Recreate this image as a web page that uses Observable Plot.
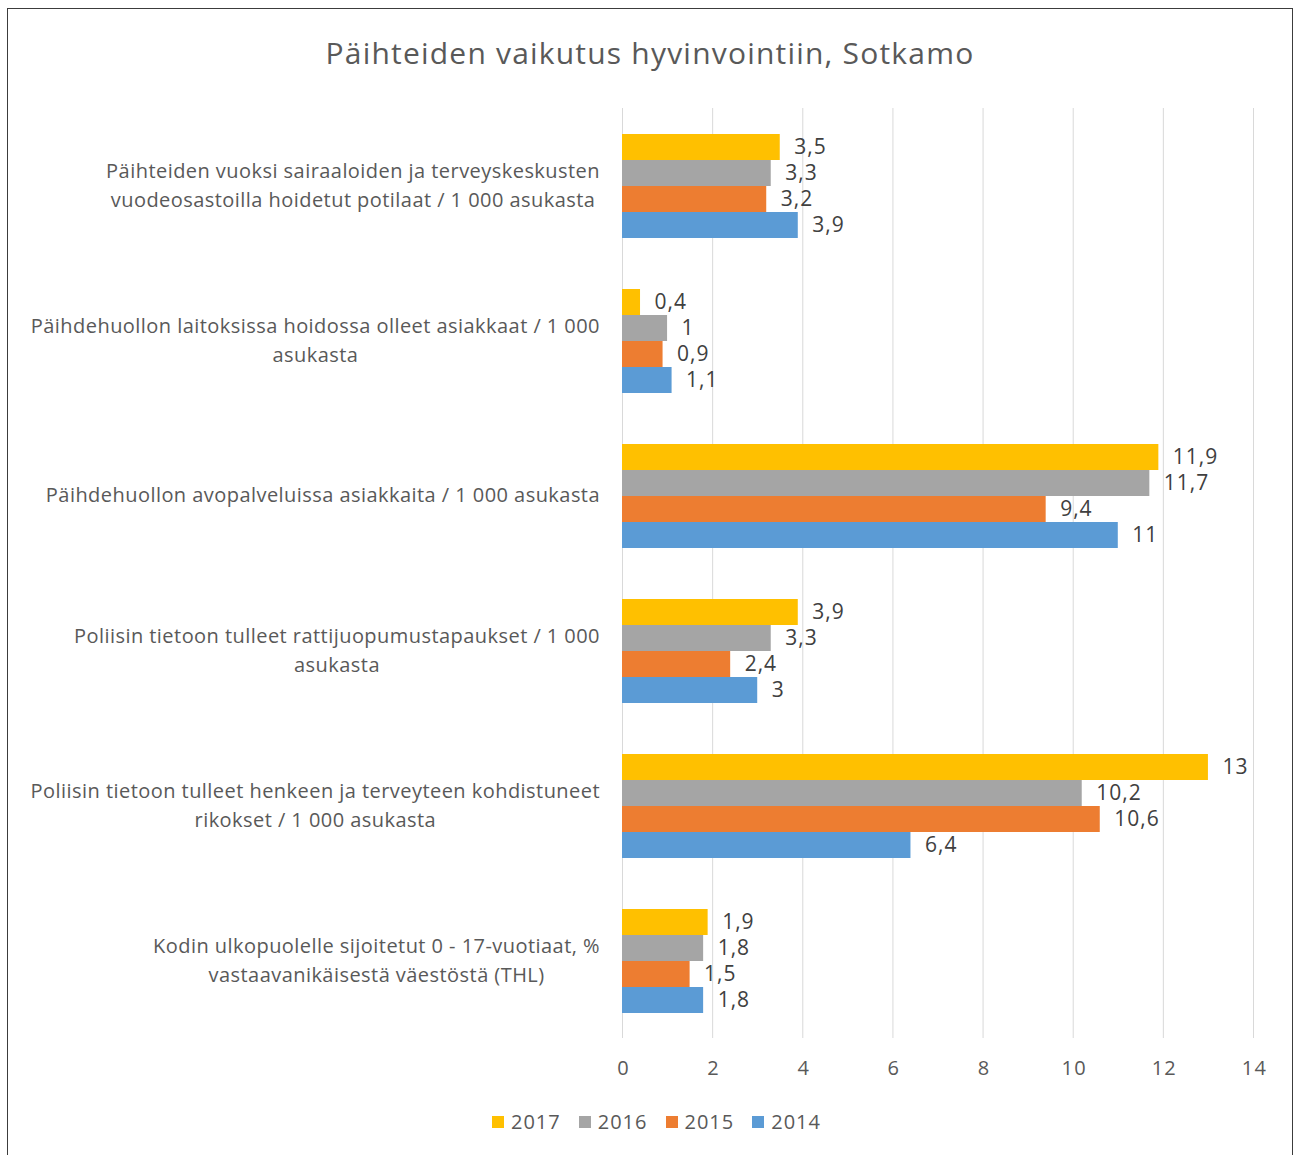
<!DOCTYPE html>
<html>
<head>
<meta charset="utf-8">
<script src="https://cdn.jsdelivr.net/npm/d3@7"></script>
<script src="https://cdn.jsdelivr.net/npm/@observablehq/plot@0.6"></script>
<style>
  html, body { margin: 0; padding: 0; background: #fff; }
  body { width: 1294px; height: 1155px; position: relative; overflow: hidden; font-family: "Open Sans", Lato, sans-serif; }
  #frame { position: absolute; left: 7px; top: 8px; width: 1286px; height: 1160px; border: 1.5px solid #3c3c3c; box-sizing: border-box; }
  #title { position: absolute; left: 0; top: 33px; width: 1300px; text-align: center; font-size: 30px; letter-spacing: 1.2px; line-height: 40px; color: #595959; }
  #chart { position: absolute; left: 9px; top: 90px; }
  #legend { position: absolute; left: 0; top: 1110px; width: 1313px; display: flex; justify-content: center; gap: 18px; font-size: 20px; letter-spacing: 1px; line-height: 24px; color: #595959; }
  #legend .item { display: flex; align-items: center; gap: 7px; }
  #legend .sw { width: 12px; height: 12px; display: inline-block; }
  #chart g[aria-label="text"] text { letter-spacing: 1px; }
  #chart g[aria-label="x-axis tick label"] text { letter-spacing: 1.2px; }
  #chart g[aria-label="fy-axis tick label"] text { letter-spacing: 0.45px; }
</style>
</head>
<body>
<div id="frame"></div>
<div id="title">Päihteiden vaikutus hyvinvointiin, Sotkamo</div>
<div id="chart"></div>
<div id="legend"></div>
<script>
const categories = [
  "Päihteiden vuoksi sairaaloiden ja terveyskeskusten\nvuodeosastoilla hoidetut potilaat / 1 000 asukasta",
  "Päihdehuollon laitoksissa hoidossa olleet asiakkaat / 1 000\nasukasta",
  "Päihdehuollon avopalveluissa asiakkaita / 1 000 asukasta",
  "Poliisin tietoon tulleet rattijuopumustapaukset / 1 000\nasukasta",
  "Poliisin tietoon tulleet henkeen ja terveyteen kohdistuneet\nrikokset / 1 000 asukasta",
  "Kodin ulkopuolelle sijoitetut 0 - 17-vuotiaat, %\nvastaavanikäisestä väestöstä (THL)"
];
const years = ["2017", "2016", "2015", "2014"];
const colors = ["#FFC000", "#A5A5A5", "#ED7D31", "#5B9BD5"];
const v2017 = [3.5, 0.4, 11.9, 3.9, 13, 1.9];
const v2016 = [3.3, 1, 11.7, 3.3, 10.2, 1.8];
const v2015 = [3.2, 0.9, 9.4, 2.4, 10.6, 1.5];
const v2014 = [3.9, 1.1, 11, 3, 6.4, 1.8];
const xTicks = [0, 2, 4, 6, 8, 10, 12, 14];

const series = {"2017": v2017, "2016": v2016, "2015": v2015, "2014": v2014};
const data = [];
categories.forEach((c, i) => {
  years.forEach(y => data.push({category: c, year: y, value: series[y][i]}));
});
const fmt = v => String(v).replace(".", ",");

const marginLeft = 613;
const chart = Plot.plot({
  width: 1283,
  height: 998,
  marginTop: 18,
  marginBottom: 50,
  marginLeft,
  marginRight: 39,
  style: {fontFamily: "'Open Sans', Lato, sans-serif", background: "transparent", overflow: "visible"},
  x: {domain: [0, 14], ticks: xTicks},
  fy: {domain: categories, padding: 0},
  y: {domain: years, paddingInner: 0, paddingOuter: 0.925},
  color: {domain: years, range: colors},
  marks: [
    Plot.gridX(xTicks, {stroke: "#d9d9d9", strokeOpacity: 1, strokeWidth: 1}),
    Plot.barX(data, {x: "value", y: "year", fy: "category", fill: "year"}),
    Plot.text(data, {x: "value", y: "year", fy: "category", text: d => fmt(d.value), textAnchor: "start", dx: 14, dy: 0, fontSize: 21, fill: "#404040"}),
    Plot.axisX({ticks: xTicks, tickSize: 0, tickPadding: 22, fontSize: 20, color: "#595959", label: null, anchor: "bottom", dx: 1}),
    Plot.axisY({ticks: [], label: null}),
    Plot.axisFy({anchor: "left", tickSize: 0, tickPadding: 22, fontSize: 20, color: "#595959", textAnchor: "middle", lineHeight: 1.45, dy: -3, label: null})
  ]
});
document.getElementById("chart").appendChild(chart);

// right-align the centered multi-line category label blocks
const targetRight = 600;
chart.querySelectorAll('g[aria-label="fy-axis tick label"] text').forEach(t => {
  const r = t.getBoundingClientRect();
  const d = targetRight - r.right;
  const tr = t.getAttribute("transform") || "";
  t.setAttribute("transform", tr + ` translate(${d},0)`);
});

const legend = document.getElementById("legend");
years.forEach((y, i) => {
  const item = document.createElement("div");
  item.className = "item";
  item.innerHTML = `<span class="sw" style="background:${colors[i]}"></span><span>${y}</span>`;
  legend.appendChild(item);
});
</script>
</body>
</html>
